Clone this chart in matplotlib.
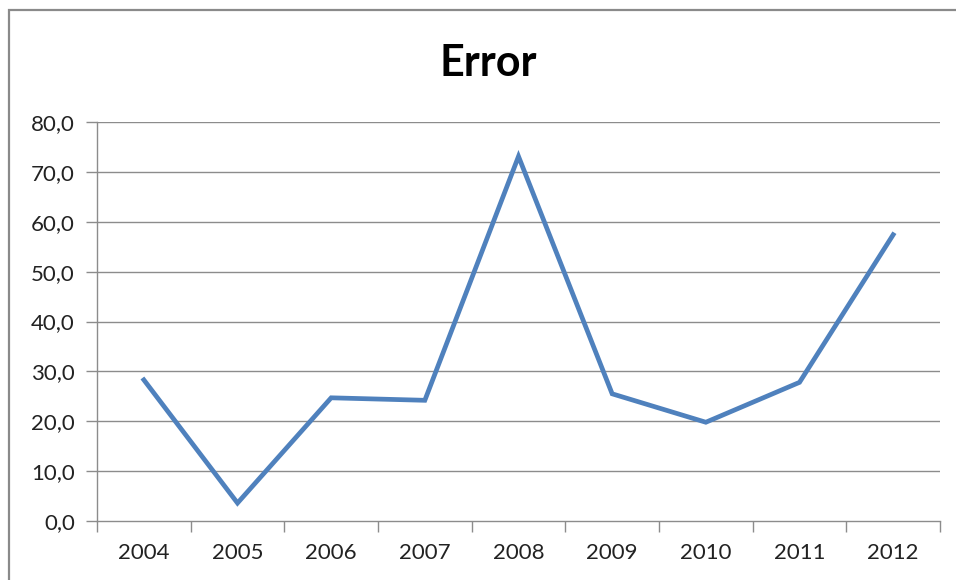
import matplotlib.pyplot as plt
from matplotlib.patches import Rectangle

plt.rcParams["font.family"] = ["Lato", "DejaVu Sans"]

# data
years = ["2004", "2005", "2006", "2007", "2008", "2009", "2010", "2011", "2012"]
error = [28.3, 3.6, 24.7, 24.2, 73.1, 25.5, 19.8, 27.8, 57.4]
y_ticks = [0, 10, 20, 30, 40, 50, 60, 70, 80]
y_labels = ["0,0", "10,0", "20,0", "30,0", "40,0", "50,0", "60,0", "70,0", "80,0"]


def main():
    fig = plt.figure(figsize=(9.56, 5.8), dpi=100)
    ax = fig.add_axes([97 / 956, 59 / 580, 843 / 956, 399 / 580])

    grid_color = "#8c8c8c"
    x = list(range(len(years)))

    # gridlines
    for t in y_ticks[1:]:
        ax.axhline(t, color=grid_color, linewidth=1, zorder=1)

    ax.plot(x, error, color="#4F81BD", linewidth=3.4, solid_joinstyle="miter",
            zorder=3, clip_on=False)

    ax.set_xlim(-0.5, len(years) - 0.5)
    ax.set_ylim(0, 80)

    # category labels centred, tick marks on the boundaries
    ax.set_xticks(x)
    ax.set_xticklabels(years)
    ax.set_xticks([i - 0.5 for i in range(len(years) + 1)], minor=True)
    ax.tick_params(axis="x", which="major", length=0, pad=16,
                   labelsize=16, labelcolor="#222222")
    ax.tick_params(axis="x", which="minor", length=8, width=1,
                   color=grid_color, direction="out")

    ax.set_yticks(y_ticks)
    ax.set_yticklabels(y_labels)
    ax.tick_params(axis="y", length=8, width=1, color=grid_color,
                   direction="out", pad=8, labelsize=16, labelcolor="#222222")

    for side in ["top", "right"]:
        ax.spines[side].set_visible(False)
    for side in ["left", "bottom"]:
        ax.spines[side].set_color(grid_color)
        ax.spines[side].set_linewidth(1)

    fig.text(488 / 956, 1 - 63 / 580, "Error", ha="center", va="center",
             fontsize=31, fontweight="bold", color="black")

    # outer chart frame (cut off at the right and bottom)
    frame = Rectangle((8.5 / 956, -0.1), 1.0, 1.1 - 10.5 / 580,
                      transform=fig.transFigure, fill=False,
                      edgecolor="#8a8a8a", linewidth=1.6)
    fig.patches.append(frame)

    plt.savefig("out.png", dpi=100)


if __name__ == "__main__":
    main()
